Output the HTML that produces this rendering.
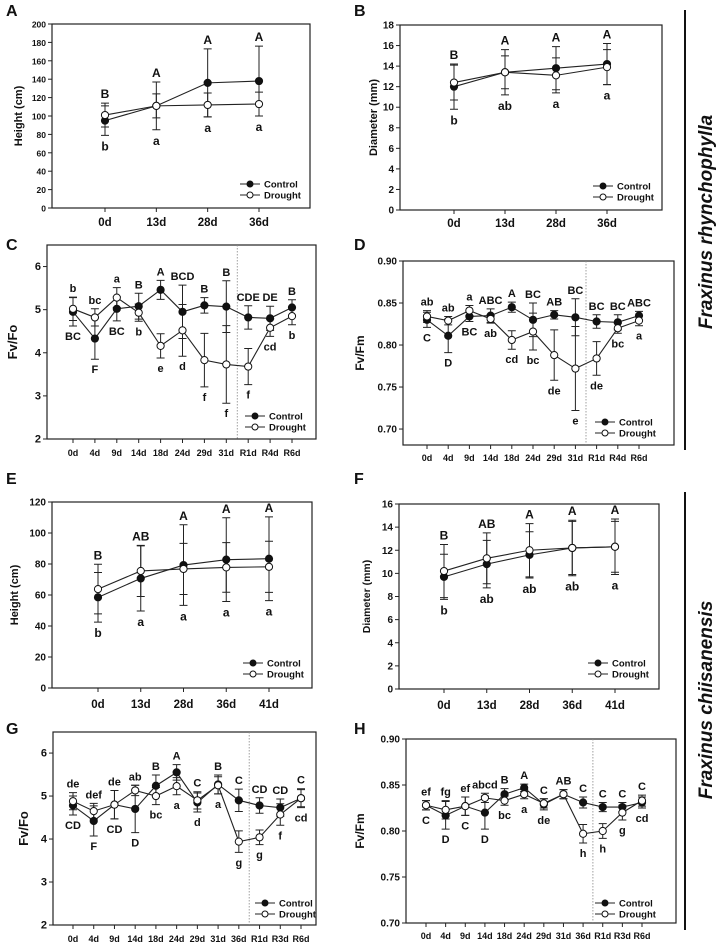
<!DOCTYPE html>
<html><head><meta charset="utf-8"><style>
html,body{margin:0;padding:0;background:#fff}
svg text{font-family:"Liberation Sans",Arial,sans-serif;font-weight:bold;fill:#111}
</style></head><body>
<svg id="fig" width="720" height="944" viewBox="0 0 720 944" xmlns="http://www.w3.org/2000/svg"></svg>
<script>
// ---- Data ----
const catsGrowth4 = ["0d","13d","28d","36d"];
const catsGrowth5 = ["0d","13d","28d","36d","41d"];
const catsFluorC = ["0d","4d","9d","14d","18d","24d","29d","31d","R1d","R4d","R6d"];
const catsFluorG = ["0d","4d","9d","14d","18d","24d","29d","31d","36d","R1d","R3d","R6d"];

const aCtrl = [95,111,136,138], aCtrlErr = [16,26,37,38];
const aDrt = [101,111,112,113], aDrtErr = [13,13,13,13];
const aTop = ["B","A","A","A"], aBot = ["b","a","a","a"];
const aTicks = [0,20,40,60,80,100,120,140,160,180,200];

const bCtrl = [12.0,13.4,13.8,14.2], bCtrlErr = [2.2,2.2,2.1,2.0];
const bDrt = [12.4,13.4,13.1,13.9], bDrtErr = [1.7,1.6,1.7,1.7];
const bTop = ["B","A","A","A"], bBot = ["b","ab","a","a"];
const bTicks = [0,2,4,6,8,10,12,14,16,18];

const cCtrl = [4.95,4.33,5.02,5.08,5.46,4.95,5.10,5.07,4.82,4.80,5.05];
const cCtrlErr = [0.33,0.48,0.28,0.30,0.22,0.62,0.18,0.60,0.27,0.28,0.18];
const cDrt = [5.02,4.82,5.28,4.93,4.16,4.52,3.83,3.73,3.68,4.58,4.85];
const cDrtErr = [0.27,0.20,0.23,0.20,0.28,0.60,0.62,0.90,0.42,0.20,0.20];
const cTop = ["b","bc","a","B","A","BCD","B","B","CDE","DE","B"];
const cBot = ["BC","F","BC","b","e","d","f","f","f","cd","b"];
const cTicks = [2,3,4,5,6];

const dCtrl = [0.830,0.811,0.834,0.835,0.845,0.830,0.836,0.833,0.828,0.827,0.835];
const dCtrlErr = [0.009,0.020,0.006,0.008,0.006,0.020,0.005,0.022,0.008,0.009,0.005];
const dDrt = [0.834,0.829,0.841,0.831,0.806,0.816,0.788,0.772,0.784,0.820,0.829];
const dDrtErr = [0.007,0.005,0.006,0.005,0.011,0.022,0.030,0.050,0.020,0.006,0.006];
const dTop = ["ab","ab","a","ABC","A","BC","AB","BC","BC","BC","ABC"];
const dBot = ["C","D","BC","ab","cd","bc","de","e","de","bc","a"];
const dTicks = [0.70,0.75,0.80,0.85,0.90];

const eCtrl = [58.5,70.7,79.3,82.8,83.4], eCtrlErr = [16,21,26,27,27];
const eDrt = [63.8,75.5,76.8,77.8,78.2], eDrtErr = [16,16.5,16.5,16,16.5];
const eTop = ["B","AB","A","A","A"], eBot = ["b","a","a","a","a"];
const eTicks = [0,20,40,60,80,100,120];

const fCtrl = [9.7,10.8,11.6,12.2,12.3], fCtrlErr = [1.95,2.05,2.0,2.3,2.2];
const fDrt = [10.2,11.3,12.0,12.2,12.3], fDrtErr = [2.3,2.2,2.3,2.4,2.4];
const fTop = ["B","AB","A","A","A"], fBot = ["b","ab","ab","ab","a"];
const fTicks = [0,2,4,6,8,10,12,14,16];

const gCtrl = [4.78,4.42,4.80,4.70,5.24,5.55,4.85,5.27,4.90,4.78,4.73,4.95];
const gCtrlErr = [0.22,0.35,0.33,0.55,0.25,0.18,0.22,0.22,0.26,0.18,0.20,0.22];
const gDrt = [4.88,4.65,4.80,5.13,5.00,5.23,4.90,5.25,3.94,4.04,4.57,4.95];
const gDrtErr = [0.20,0.18,0.33,0.12,0.20,0.20,0.20,0.20,0.25,0.17,0.25,0.20];
const gTop = ["de","def","de","ab","B","A","C","B","C","CD","CD","C"];
const gBot = ["CD","F","CD","D","bc","a","d","a","g","g","f","cd"];
const gTicks = [2,3,4,5,6];

const hCtrl = [0.828,0.817,0.827,0.820,0.840,0.847,0.829,0.840,0.831,0.826,0.826,0.831];
const hCtrlErr = [0.005,0.015,0.010,0.018,0.006,0.004,0.006,0.005,0.006,0.005,0.005,0.006];
const hDrt = [0.828,0.823,0.827,0.836,0.833,0.840,0.830,0.840,0.797,0.800,0.820,0.833];
const hDrtErr = [0.005,0.010,0.010,0.005,0.005,0.005,0.005,0.005,0.010,0.008,0.008,0.006];
const hTop = ["ef","fg","ef","abcd","B","A","C","AB","C","C","C","C"];
const hBot = ["C","D","C","D","bc","a","de","","h","h","g","cd"];
const hTicks = [0.70,0.75,0.80,0.85,0.90];

const NS = "http://www.w3.org/2000/svg";
const svg = document.getElementById("fig");
function mk(tag, attrs, parent, txt){
  const e = document.createElementNS(NS, tag);
  for (const k in attrs) e.setAttribute(k, attrs[k]);
  if (txt !== undefined) e.textContent = txt;
  (parent || svg).appendChild(e);
  return e;
}

function panel(p){
  const g = mk("g", {});
  
  
  const ys = v => p.y1 - (v - p.ymin) / (p.ymax - p.ymin) * (p.y1 - p.y0);
  const n = p.cats.length;
  const xs = i => p.xa + (p.xb - p.xa) * i / (n - 1);
  // panel label
  const pl = mk("text", {x:p.lx, y:p.ly, "font-size":16, "font-family":"DejaVu Sans, sans-serif"}, g, p.id);
  
  
  // box
  const box = mk("rect", {x:p.x0, y:p.y0, width:p.x1-p.x0, height:p.y1-p.y0, fill:"none", stroke:"#222", "stroke-width":1.2}, g);
  
  
  // y ticks
  p.ticks.forEach(t => {
    const y = ys(t);
    mk("line", {x1:p.x0-4, x2:p.x0, y1:y, y2:y, stroke:"#222", "stroke-width":1}, g);
    const tl = mk("text", {x:p.x0-6, y:y+3.5, "font-size":p.tfs, "text-anchor":"end"}, g, p.fmt(t));
    
    
  });
  // x ticks
  p.cats.forEach((c, i) => {
    const x = xs(i);
    mk("line", {x1:x, x2:x, y1:p.y1, y2:p.y1+4, stroke:"#222", "stroke-width":1}, g);
    const xl = mk("text", {x:x, y:p.y1+p.xlo, "font-size":p.xfs, "text-anchor":"middle"}, g, c);
    
    
  });
  // y title
  const yt = mk("text", {x:0, y:0, "font-size":p.yfs, "text-anchor":"middle", transform:`translate(${p.ytx},${(p.y0+p.y1)/2}) rotate(-90)`}, g, p.ytitle);
  
  
  // dotted recovery line
  if (p.dot !== undefined) {
    const dx = (xs(p.dot) + xs(p.dot+1)) / 2;
    const dl = mk("line", {x1:dx, x2:dx, y1:p.y0, y2:p.y1, stroke:"#888", "stroke-width":0.8, "stroke-dasharray":"1.5,1.5"}, g);
    
    
  }
  // series
  const series = [[p.ctrl, p.ctrlErr, "#111", "control"], [p.drt, p.drtErr, "#fff", "drought"]];
  series.forEach(([vals, errs, fill, nm]) => {
    const pts = vals.map((v, i) => xs(i) + "," + ys(v)).join(" ");
    const ln = mk("polyline", {points:pts, fill:"none", stroke:"#222", "stroke-width":1.1}, g);
    
    
    vals.forEach((v, i) => {
      const x = xs(i), yt2 = ys(v + errs[i]), yb = ys(v - errs[i]);
      const eb = mk("path", {d:`M${x},${yt2}V${yb}M${x-4},${yt2}H${x+4}M${x-4},${yb}H${x+4}`, stroke:"#222", "stroke-width":1, fill:"none"}, g);
      
      
    });
  });
  series.forEach(([vals, errs, fill, nm]) => {
    vals.forEach((v, i) => {
      const c = mk("circle", {cx:xs(i), cy:ys(v), r:3.6, fill:fill, stroke:"#111", "stroke-width":1}, g);
      
      
    });
  });
  // significance letters
  p.cats.forEach((c, i) => {
    const x = xs(i);
    const top = Math.min(ys(p.ctrl[i] + p.ctrlErr[i]), ys(p.drt[i] + p.drtErr[i]));
    const bot = Math.max(ys(p.ctrl[i] - p.ctrlErr[i]), ys(p.drt[i] - p.drtErr[i]));
    if (p.top[i]) {
      const t = mk("text", {x:x, y:top-5, "font-size":p.lfs, "text-anchor":"middle"}, g, p.top[i]);
      
      
    }
    if (p.bot[i]) {
      const t = mk("text", {x:x, y:bot+p.lfs+3, "font-size":p.lfs, "text-anchor":"middle"}, g, p.bot[i]);
      
      
    }
  });
  // legend
  const lg = mk("g", {}, g);
  
  
  [["Control", "#111", p.legY], ["Drought", "#fff", p.legY+11]].forEach(([lab, fill, y]) => {
    mk("line", {x1:p.legX, x2:p.legX+20, y1:y, y2:y, stroke:"#222", "stroke-width":1}, lg);
    mk("circle", {cx:p.legX+10, cy:y, r:3, fill:fill, stroke:"#111", "stroke-width":1}, lg);
    const t = mk("text", {x:p.legX+24, y:y+3.5, "font-size":9.5}, lg, lab);
    
    
  });
}

const f0 = v => String(v), f2 = v => v.toFixed(2);
panel({id:"A", lx:6, ly:16, x0:52, x1:310, y0:24, y1:208, xa:105, xb:259, ymin:0, ymax:200,
  cats:catsGrowth4, ctrl:aCtrl, ctrlErr:aCtrlErr, drt:aDrt, drtErr:aDrtErr, top:aTop, bot:aBot, ticks:aTicks, fmt:f0,
  tfs:8.5, xfs:11.5, xlo:18, yfs:11, ytx:22, ytitle:"Height (cm)", lfs:12, legX:240, legY:184});
panel({id:"B", lx:354, ly:16, x0:400, x1:662, y0:25, y1:210, xa:454, xb:607, ymin:0, ymax:18,
  cats:catsGrowth4, ctrl:bCtrl, ctrlErr:bCtrlErr, drt:bDrt, drtErr:bDrtErr, top:bTop, bot:bBot, ticks:bTicks, fmt:f0,
  tfs:10, xfs:11.5, xlo:17, yfs:11, ytx:377, ytitle:"Diameter (mm)", lfs:12, legX:593, legY:186});
panel({id:"C", lx:6, ly:250, x0:47, x1:316, y0:245, y1:439, xa:73, xb:292, ymin:2, ymax:6.5, dot:7,
  cats:catsFluorC, ctrl:cCtrl, ctrlErr:cCtrlErr, drt:cDrt, drtErr:cDrtErr, top:cTop, bot:cBot, ticks:cTicks, fmt:f0,
  tfs:11, xfs:9, xlo:17, yfs:13, ytx:17, ytitle:"Fv/Fo", lfs:11, legX:245, legY:416});
panel({id:"D", lx:354, ly:250, x0:403, x1:674, y0:261, y1:445, xa:427, xb:639, ymin:0.681, ymax:0.90, dot:7,
  cats:catsFluorC, ctrl:dCtrl, ctrlErr:dCtrlErr, drt:dDrt, drtErr:dDrtErr, top:dTop, bot:dBot, ticks:dTicks, fmt:f2,
  tfs:10, xfs:9, xlo:16, yfs:12, ytx:364, ytitle:"Fv/Fm", lfs:11, legX:595, legY:422});
panel({id:"E", lx:6, ly:484, x0:52, x1:312, y0:502, y1:688, xa:98, xb:269, ymin:0, ymax:120,
  cats:catsGrowth5, ctrl:eCtrl, ctrlErr:eCtrlErr, drt:eDrt, drtErr:eDrtErr, top:eTop, bot:eBot, ticks:eTicks, fmt:f0,
  tfs:10, xfs:11.5, xlo:20, yfs:11, ytx:18, ytitle:"Height (cm)", lfs:12, legX:243, legY:663});
panel({id:"F", lx:354, ly:484, x0:399, x1:659, y0:504, y1:689, xa:444, xb:615, ymin:0, ymax:16,
  cats:catsGrowth5, ctrl:fCtrl, ctrlErr:fCtrlErr, drt:fDrt, drtErr:fDrtErr, top:fTop, bot:fBot, ticks:fTicks, fmt:f0,
  tfs:10, xfs:11.5, xlo:20, yfs:10.5, ytx:370, ytitle:"Diameter (mm)", lfs:12, legX:588, legY:663});
panel({id:"G", lx:6, ly:734, x0:53, x1:316, y0:732, y1:925, xa:73, xb:301, ymin:2, ymax:6.49, dot:8,
  cats:catsFluorG, ctrl:gCtrl, ctrlErr:gCtrlErr, drt:gDrt, drtErr:gDrtErr, top:gTop, bot:gBot, ticks:gTicks, fmt:f0,
  tfs:11, xfs:9, xlo:17, yfs:13, ytx:28, ytitle:"Fv/Fo", lfs:11, legX:255, legY:903});
panel({id:"H", lx:354, ly:734, x0:406, x1:676, y0:739, y1:923, xa:426, xb:642, ymin:0.70, ymax:0.90, dot:8,
  cats:catsFluorG, ctrl:hCtrl, ctrlErr:hCtrlErr, drt:hDrt, drtErr:hDrtErr, top:hTop, bot:hBot, ticks:hTicks, fmt:f2,
  tfs:10, xfs:9, xlo:16, yfs:12, ytx:364, ytitle:"Fv/Fm", lfs:11, legX:595, legY:903});

// species labels
[["Fraxinus rhynchophylla", 10, 450, 222, "species-label-rhynchophylla"],
 ["Fraxinus chiisanensis", 492, 930, 700, "species-label-chiisanensis"]].forEach(([t, a, b, cy, nm]) => {
  const l = mk("line", {x1:685, x2:685, y1:a, y2:b, stroke:"#111", "stroke-width":2});
  
  
  const tx = mk("text", {x:0, y:0, "font-size":19, "font-style":"italic", "text-anchor":"middle", transform:`translate(712,${cy}) rotate(-90)`}, svg, t);
  
  
});
</script>
</body></html>
